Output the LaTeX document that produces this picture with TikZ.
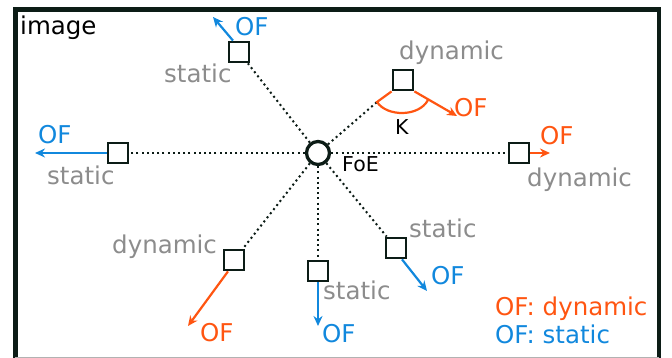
\documentclass[tikz,border=0pt]{standalone}
\usepackage{fontspec}
\setmainfont{DejaVu Sans}
\usetikzlibrary{arrows.meta,calc}
\definecolor{ofdyn}{HTML}{FF5511}
\definecolor{ofsta}{HTML}{1188DD}
\definecolor{lbl}{HTML}{8C8C8C}
\definecolor{frm}{HTML}{0C1C16}
\begin{document}
\begin{tikzpicture}[x=1pt,y=-1pt,
  sq/.style={draw=frm,line width=2.8pt,minimum size=20pt,inner sep=0pt,fill=white},
  txt/.style={inner sep=0pt,anchor=base west,font=\fontsize{24.5}{28}\selectfont},
  small/.style={inner sep=0pt,anchor=base west,font=\fontsize{20.5}{24}\selectfont},
  lb/.style={txt,text=lbl},
  dyn/.style={txt,text=ofdyn},
  sta/.style={txt,text=ofsta},
  dotline/.style={draw=frm,line width=2pt,dash pattern=on 2pt off 3.2pt},
  dynarrow/.style={draw=ofdyn,line width=2.2pt,-{Stealth[length=10pt,width=9pt]}},
  staarrow/.style={draw=ofsta,line width=2.2pt,-{Stealth[length=10pt,width=9pt]}}]
\useasboundingbox (0,0) rectangle (672,358);
% frame
\draw[frm,line width=4.5pt] (15.3,358) -- (15.3,9.5) -- (659,9.5) -- (659,358);
\draw[gray!60,line width=1pt] (15.3,357.5) -- (659,357.5);
\node[txt,text=black] (img) at (20,35) {image};
% focus of expansion
\node[draw=frm,circle,line width=3.3pt,minimum size=23pt,inner sep=0pt] (foe) at (318,153) {};
\node[small,text=black] (foelbl) at (342,172) {FoE};
% squares
\node[sq] (sTL) at (239,52) {};
\node[sq] (sL) at (118,153) {};
\node[sq] (sTR) at (403,80) {};
\node[sq] (sR) at (519,153) {};
\node[sq] (sBL) at (234,260) {};
\node[sq] (sBM) at (318,271) {};
\node[sq] (sBR) at (396,248) {};
\coordinate (kl) at (377,102);
\coordinate (kr) at (428,100);
% dotted rays
\draw[dotline] (foe) -- (sTL);
\draw[dotline] (foe) -- (sL);
\draw[dotline] (foe) -- (kl);
\draw[dotline] (foe) -- (sR);
\draw[dotline] (foe) -- (sBL);
\draw[dotline] (foe) -- (sBM);
\draw[dotline] (foe) -- (sBR);
% arrow tips
\coordinate (tTL) at (213,17);
\coordinate (tL) at (35,153);
\coordinate (tTR) at (457,116);
\coordinate (tR) at (550,153);
\coordinate (tBL) at (188,326);
\coordinate (tBM) at (318,326);
\coordinate (tBR) at (427,291);
\draw[staarrow] ([xshift=-6pt]sTL.north) -- (tTL);
\draw[staarrow] (sL.west) -- (tL);
\draw[dynarrow] (sTR.south east) -- (tTR);
\draw[dynarrow] (sR.east) -- (tR);
\draw[dynarrow] ([xshift=-6pt]sBL.south) -- (tBL);
\draw[staarrow] (sBM.south) -- (tBM);
\draw[staarrow] ([xshift=6pt]sBR.south) -- (tBR);
% angle mark
\draw[ofdyn,line width=2.2pt] (sTR.south west) -- (kl) .. controls (387,117) and (419,117) .. (kr);
\node[small,text=black] (K) at (395,135) {K};
% labels
\node[sta] (ofTL) at (235,36) {OF};
\node[lb] (stTL) at (164,83) {static};
\node[sta] (ofL) at (38,144) {OF};
\node[lb] (stL) at (47,185) {static};
\node[lb] (dyTR) at (399,60) {dynamic};
\node[dyn] (ofTR) at (454,117) {OF};
\node[dyn] (ofR) at (540,145) {OF};
\node[lb] (dyR) at (527,187) {dynamic};
\node[lb] (dyBL) at (112,254) {dynamic};
\node[dyn] (ofBL) at (200,341) {OF};
\node[lb] (stBM) at (323,299) {static};
\node[sta] (ofBM) at (322,342) {OF};
\node[lb] (stBR) at (409,237) {static};
\node[sta] (ofBR) at (431,284) {OF};
% legend
\node[dyn] (legdyn) at (495,315) {OF: dynamic};
\node[sta] (legsta) at (495,343) {OF: static};
\end{tikzpicture}
\end{document}
